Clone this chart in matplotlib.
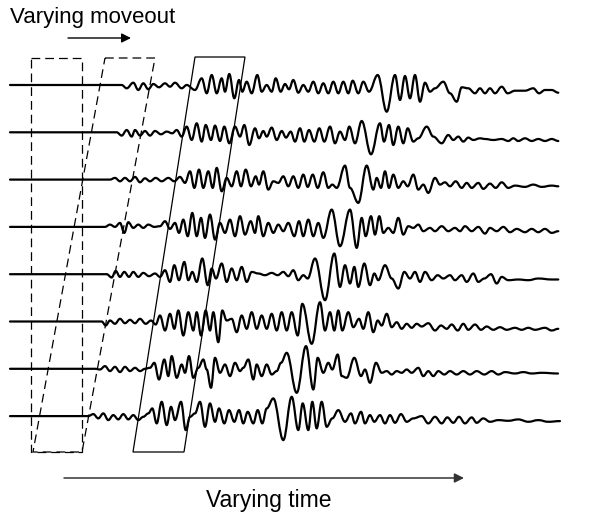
import matplotlib.pyplot as plt
from matplotlib.path import Path
from matplotlib.patches import PathPatch, Polygon

plt.rcParams['font.family'] = ['Liberation Sans', 'DejaVu Sans']

# recording starts at the same time on every trace (flat, quiet part)
record_start = 10

# extrema of each trace: time and amplitude (up is positive)
t1 = [121.7, 126.7, 133.3, 138.3, 143.3, 148.3, 153.3, 159, 165, 170, 175, 181.7, 186.7, 195, 201.7,
      206.7, 211.7, 216.7, 221.7, 225, 229.3, 234.3, 239, 242.3, 246.7, 251.7, 257.3, 261.7, 266.7,
      271.7, 275.7, 280.7, 285, 289, 293.3, 298.3, 303.3, 308.3, 313.3, 318.3, 323.3, 328.3, 333.3,
      338.3, 343.3, 348.3, 352.7, 358.3, 363.3, 369, 377.7, 386.7, 395, 400, 405, 410, 415, 420, 425,
      430, 435, 443.3, 450, 456.7, 461.7, 468.3, 475, 480, 485, 490, 495, 501.7, 507.7, 515, 525,
      533.3, 539, 545, 551.7, 558.3]
a1 = [0, -3.3, 2.3, -5, 1.7, -4.3, 1, -2.3, 1.7, -1.7, 2.3, -3.3, 0, -5, 6.7,
      -8.3, 10, -8.3, 6.7, -6.7, 11, -13.3, 5, -6.7, 3.3, -8.3, 10, -6.7, 0,
      -6.7, 6.7, -6.7, 1, -4.3, 5, -7.7, 0, -6.7, 3.3, -8.3, 1.7, -8.3, 3.3,
      -8.3, 3.3, -8.3, 4.3, -8.3, 3.3, -6.7, 10, -26.7, 10, -15, 9, -13.3, 10, -16.7, 2.3,
      -6.7, -3.3, 3.3, -8.3, -16.7, -2.3, -3.3, -8.3, -3.3, -8.3, -3.3, -8.3, -1.7, -8.3, -5.7, -5.7,
      -3.3, -8.3, -5, -5, -7.7]

t2 = [116.7, 121.7, 126.7, 131.7, 135, 140, 145, 150, 155, 161, 166.7, 172.3, 176.7, 181.7, 186.7,
      191.7, 196.7, 201.7, 205.7, 211, 215, 220, 224.3, 229.3, 235, 240, 244.3, 249.3, 255, 259,
      263.3, 266.7, 271.7, 276.7, 281.7, 286, 290.7, 295, 300, 304.3, 309, 314.3, 319.3, 324.3, 330,
      335, 340, 345, 349.3, 355, 361.7, 371, 380, 384, 389, 393.3, 398.3, 403.3, 407.7, 413.3, 418.3,
      426.7, 433.3, 441.7, 448.3, 453.3, 458.3, 463.3, 468.3, 473.3, 480, 485, 493.3, 501.7, 508.3,
      513.3, 518.3, 525, 531.7, 538.3, 545, 551.7, 558.3]
a2 = [0, -3.3, 2.3, -4.3, 2.3, -3.3, 1.3, -3.3, 1.3, -2, 0.7, -1, 2.3, -4.3, 5.7,
      -7.7, 9, -9.3, 7.3, -7.7, 6.7, -8.7, 5.7, -11, 5.7, -4.3, 7.3, -12.7, 4, -6,
      1.3, -4.3, 4.7, -7.7, 1.3, -5.3, 0.7, -9.3, 4, -9.3, 2.3, -9.3, 4, -9.3, 5.7,
      -11, 0.7, -7.7, 5.7, -11, 11.3, -22, 9, -9.3, 7.3, -12.7, 5.7, -11, 4, -9.3, -6,
      5.7, -4.3, -11, -2.7, -7.7, -4.3, -9.3, -5.3, -7.7, -6, -6.7, -7.7, -6.7, -8.7,
      -6, -8.7, -6, -8.7, -6.7, -8.7, -6.7, -8.7]

t3 = [110, 115, 120, 125, 130, 135, 140, 145, 150, 155.7, 161.7, 168.3, 174.3, 180, 185,
      190, 194.3, 199, 203.3, 208.3, 212.7, 216.7, 221.7, 226.7, 231.7, 236.7, 241, 245.7, 251,
      255.7, 259, 263.3, 268.3, 273.3, 278.3, 283.3, 288.3, 293.3, 298.3, 303.3, 307.7, 312.7,
      317.7, 323.3, 328.3, 332.3, 336.7, 345, 350, 358.3, 366.7, 373.3, 376.7, 381, 385, 389,
      393.3, 398.3, 403.3, 407.7, 413.3, 418.3, 423.3, 428.3, 435, 440, 445, 450, 455.7, 461.7,
      466.7, 471.7, 478.3, 483.3, 490, 495.7, 501.7, 508.3, 515, 525, 533.3, 541.7, 551.7, 558.3]
a3 = [0, 1.7, -1.7, 1.7, -1.7, 2.7, -2.7, 1.3, -1.7, 1.7, -1.7, 1.7, -1.7, 2.7, -3.3,
      8.3, -8.3, 10, -8.3, 8.3, -8.3, 11.7, -11.7, 1.7, -6.7, 8.3, -6.7, 10, -6.7,
      3.3, -5, 8.3, -10, -1.7, -3.3, 3.3, -6.7, 3.3, -8.3, 5, -7.3, 5,
      -8.3, 7.3, -8.3, -5, -8.3, 14, -8.3, -23.3, 14, -10, 1.7, -8.3, 8.3, -8.3,
      5, -8.3, -1.7, -6.7, 5, -10, -5, -13.3, 1.7, -5, -2.7, -6.7, -1.7, -8.3,
      -3.3, -8.3, -3.3, -9.3, -4, -8.3, -2.7, -8.3, -6, -7.3, -5, -7.3, -6, -6.7]

t4 = [105, 110, 115, 120, 124.3, 128.3, 133.3, 138.3, 143.3, 148.3, 154.3, 160, 165, 170, 175,
      179, 183.3, 187.7, 192.3, 196.7, 201, 205, 210, 215, 220, 225, 230, 235, 240, 245, 250.7,
      255, 258.3, 263.3, 268.3, 273.3, 278.3, 283.3, 288.3, 294.3, 299, 303.3, 308.3, 313.3,
      318.3, 323.3, 331.7, 340, 350, 356.7, 361.7, 365.7, 371, 375, 379.3, 383.3, 388.3, 393.3,
      398.3, 403.3, 408.3, 413.3, 418.3, 423.3, 430, 435, 441.7, 448.3, 455, 460, 465, 471.7,
      478.3, 485, 490, 496.7, 503.3, 510, 516.7, 525, 531.7, 538.3, 545, 551.7, 558.3]
a4 = [0, 2.3, 0, 4, -6, 4.7, -1, 2.3, -1, 2.3, 0, 0.7, 5.7, -2, 4,
      -6, 7.3, -9.3, 14, -9.3, 9, -11, 12.3, -12.7, 4, -6, 7.3, -9.3, 10.7, -7.7, 5.7,
      -6, 10.7, -9.3, 4, -6, 2.3, -4.3, 4, -9.3, 5.7, -9.3, 7.3, -9.3,
      4, -11, 17.3, -19.3, 17.3, -21, 9, -9.3, 10.7, -7.7, 10.7, -6, -1, -6,
      9, -7.7, 0.7, -1, 2.3, -4.3, -1, -4.3, 0.7, -4.3, -1, -4.3, 0.7, -4.3,
      0, -6.7, -1, -4.3, 0, -5.3, -2, -5.3, -2, -5.3, -2, -6, -4.3]

t5 = [106.7, 111.7, 115.7, 120, 124.3, 129, 133.3, 138.3, 143.3, 149, 155, 160, 165, 170, 174.3,
      179, 184.3, 188.3, 192.3, 196.7, 202.3, 207.7, 211.7, 216, 221.7, 226.7, 231.7, 236.7,
      241.7, 246.7, 251.7, 258.3, 265, 271.7, 277.7, 283.3, 288.3, 293.3, 298.3, 303.3, 307.7,
      315, 325, 334.3, 340, 345, 350, 354.3, 358.3, 364.3, 370, 374.3, 378.3, 385, 391.7, 398.3,
      404.3, 410, 415, 420, 425, 431.7, 437.7, 443.3, 450, 455, 461.7, 466.7, 473.3, 478.3, 484.3,
      491, 496.7, 501.7, 508.3, 518.3, 528.3, 538.3, 551.7, 558.3]
a5 = [0, -3.3, 3.3, -2.7, 2.3, -2.7, 2.3, -2.7, 1.3, -2, 0.7, -2.7, 4, -7.7, 9,
      -6, 12.3, -6, 2.3, -7.7, 15.7, -11, 5.7, -4.3, 10.7, -7.7, 5.7, -6,
      7.3, -7.7, 2.3, 0.7, -1, 1.3, -1, 2.3, -2, 4, -6, -1, -4.3,
      15.7, -26, 20.7, -12.7, 9, -9.3, 7.3, -12.7, 10.7, -11, 0.7, -6, 9, -4.3, -14.3,
      2.3, -4.3, 2.3, -7.7, 2.3, -6, -1, -4.3, -1, -6, -1, -7.7, 0.7, -7.7, -4.3,
      0, -9.3, -2.7, -6, -5.3, -6, -4.3, -5.3, -5.3]

t6 = [101.7, 105.7, 110, 115, 120, 125, 130, 135, 140, 145.7, 151, 155.7, 160, 165, 170, 174.3,
      178.3, 183.3, 188.3, 193.3, 196.7, 201, 205.7, 210, 213.3, 218.3, 222.3, 226.7, 231.7,
      236.7, 241.7, 246.7, 251.7, 256.7, 261.7, 266.7, 271.7, 276.7, 281.7, 286.7, 291.7, 297.7,
      302.3, 311.7, 320, 325, 330, 334.3, 338.3, 342.3, 348.3, 353.3, 359, 363.3, 368.3, 373.3,
      377.7, 381.7, 386.7, 391.7, 396.7, 401.7, 406.7, 411.7, 416.7, 421.7, 428.3, 435, 441,
      446.7, 451.7, 457.7, 463.3, 468.3, 475, 481, 486.7, 493.3, 500, 506.7, 515, 521.7, 528.3,
      535, 545, 551.7, 558.3]
a6 = [0, -4, 1, -2.3, 2.7, -1.7, 1.7, -1.7, 2.7, -2.3, 1, -3, 6, -9, 7.7, -7.3,
      11, -14, 9.3, -9, 9.3, -14, 11, -9, 9.3, -20.7, 11, 1, 2.7,
      -10.7, 6, -7.3, 9.3, -7.3, 6, -7.3, 7.7, -9, 9.3, -9, 9.3, -14,
      17.7, -22.3, 19.3, -9, 9.3, -9, 11, -9, 9.3, -5.7, 2.7, -7.3, 9.3, -10.7,
      1, -4, 7.7, -5.7, -0.7, -7.3, -2.3, -6.3, -2.3, -5, -1.7, -9, -4,
      -7.3, -3, -9, -2.3, -8.3, -3, -8.3, -5, -8.3, -5.7, -8.3, -6.3, -8.3, -6.3,
      -8.3, -6.3, -9, -7.3]

t7 = [95, 100, 105, 110, 115, 120, 125, 130, 135, 140, 145, 150, 154.3, 159, 164.3, 168.3,
      171.7, 176.7, 181.7, 185, 189, 193.3, 198.3, 203.3, 206.7, 211, 215, 220, 225, 230, 235,
      240, 243.3, 248.3, 253.3, 256.7, 261.7, 266.7, 271.7, 276.7, 281, 286.7, 296.7, 306,
      313.3, 317.7, 323.3, 328.3, 332.3, 337.7, 341.7, 346.7, 354.3, 361, 365, 370, 376, 381.7,
      386.7, 391.7, 396.7, 401.7, 406.7, 411.7, 418.3, 423.3, 428.3, 433.3, 438.3, 444.3, 450,
      456.7, 463.3, 470, 476.7, 484.3, 491.7, 498.3, 505, 515, 523.3, 531.7, 541.7, 558]
a7 = [0, -0.7, 2.7, -2.3, 2, -3.3, 2, -2.3, 1, -2.3, 0, 1, 6, -10.7, 9.3, -7.3,
      12.7, -9, 4.3, -4, 12.7, -9, 1, 9.3, -0.7, -19, 11, -4, 4.3, -7.3, 6,
      -2.3, 1, 9.3, -10.7, 4.3, -7.3, 4.3, -5.7, -2.3, 6, 16, -24, 22.7,
      -20.7, 11, -4, 6, -0.7, 14.3, -7.3, -9, 11, -7.3, -0.7, -14, 6, -4,
      -2.3, -5.7, -2.3, -4, -0.7, -4, 1, -7.3, -2.3, -7.3, -2.3, -5.7, -2.3,
      -5.7, -2.3, -5.7, -2.3, -5.7, -2.3, -5.7, -3.3, -4.7, -3.3, -4.7, -4, -4.7]

t8 = [88.3, 93.3, 98.3, 103.3, 108.3, 113.3, 118.3, 123.3, 128.3, 133.3, 138.3, 143.3, 148.3,
      152.3, 156.7, 161.7, 166.7, 171, 175, 181, 185.7, 190, 195, 200, 205, 210, 215, 219, 224.3,
      229, 234.3, 239, 243.3, 247.7, 253.3, 257.7, 262.3, 266.7, 273.3, 283.3, 291.7, 298.3, 302.7,
      308.3, 312.3, 316.7, 321.7, 326.7, 332.3, 338.3, 345, 351, 355, 361, 365, 370, 374.3, 380,
      385, 390, 395, 401, 406.7, 413.3, 421.7, 428.3, 435, 441.7, 447.3, 453.3, 459, 465, 471.7,
      476.7, 483.3, 490, 498.3, 508.3, 518.3, 528.3, 538.3, 548.3, 560]
a8 = [0, 2, -2.3, 2.7, -4, 1, -3.3, 2, -3.3, 1, -4, -0.7, 2.7,
      7.7, -7.3, 14.3, -9, 9.3, -4, 14.3, -14, -0.7, 2.7, 14.3, -10.7, 12.7, -5.7, 7.7, -7.3,
      6, -5.7, 6, -7.3, 4.3, -7.3, 6, -7.3, 7.7, 17.7, -24, 19.3, -14, 12.7,
      -14, 14.3, -12.3, 14.3, -10.7, -2.3, 6, -5.7, 2.7, -7.3, 4.3, -7.3, 1, -5.7, 1,
      -7.3, 1, -6.7, 2, -5.7, -2.3, 0, -7.3, -0.7, -7.3, -1.3, -6.7, -0.7, -7.3, -1.3,
      -6.7, -2.3, -5.7, -4, -4.7, -3.3, -5.7, -4, -5.7, -5]

traces = [(t1, a1), (t2, a2), (t3, a3), (t4, a4), (t5, a5), (t6, a6), (t7, a7), (t8, a8)]

fig = plt.figure(figsize=(5.89, 5.14), dpi=100)
ax = fig.add_axes([0, 0, 1, 1])
ax.set_xlim(0, 589)
ax.set_ylim(514, 0)
ax.axis('off')

# each trace: smooth curve through its extrema (horizontal tangent at every extremum)
for i, (t, a) in enumerate(traces):
    base = 85 + 47.3 * i
    pts = [(record_start, base)] + [(ti, base - ai) for ti, ai in zip(t, a)]
    verts = [pts[0]]
    codes = [Path.MOVETO]
    for (x0, y0), (x1, y1) in zip(pts[:-1], pts[1:]):
        d = (x1 - x0) * 0.38
        verts += [(x0 + d, y0), (x1 - d, y1), (x1, y1)]
        codes += [Path.CURVE4] * 3
    ax.add_patch(PathPatch(Path(verts, codes), fill=False, lw=1.6, ec='black',
                           capstyle='round', joinstyle='round'))

# windows: two dashed (moveout being scanned) and the solid one
dash = (0, (7, 4))
ax.add_patch(Polygon([(31, 58), (82, 58), (82, 452), (31, 452)], closed=True,
                     fill=False, ec='black', lw=0.9, ls=dash))
ax.add_patch(Polygon([(105, 58), (155, 58), (82, 452), (33, 452)], closed=True,
                     fill=False, ec='black', lw=0.9, ls=dash))
ax.add_patch(Polygon([(195, 57), (245, 57), (184, 452), (133, 452)], closed=True,
                     fill=False, ec='black', lw=0.9))

# labels and arrows
ax.text(10, 17, 'Varying moveout', fontsize=16, va='center', ha='left')
ax.annotate('', xy=(131, 38), xytext=(68, 38),
            arrowprops=dict(arrowstyle='-|>', color='black', lw=1.0,
                            mutation_scale=14, shrinkA=0, shrinkB=0))
ax.annotate('', xy=(464, 478), xytext=(64, 478),
            arrowprops=dict(arrowstyle='-|>', color='#333333', lw=1.1,
                            mutation_scale=14, shrinkA=0, shrinkB=0))
ax.text(206, 500, 'Varying time', fontsize=16.5, va='center', ha='left')

fig.savefig('out.png', dpi=100)
